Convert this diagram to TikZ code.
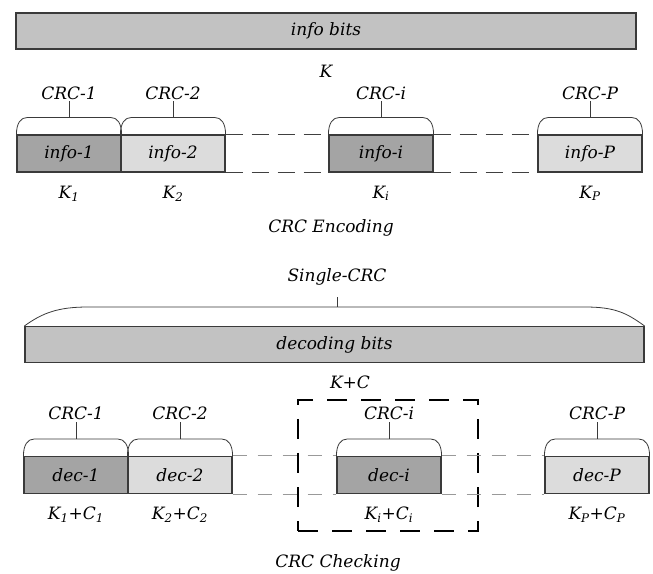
\documentclass[tikz,border=0pt]{standalone}
\usepackage{fontspec}
\setmainfont{DejaVu Serif}
\usetikzlibrary{positioning}
\definecolor{bargray}{HTML}{C2C2C2}
\definecolor{darkfill}{HTML}{A4A4A4}
\definecolor{lightfill}{HTML}{DCDCDC}
\definecolor{edgegray}{HTML}{3A3A3A}

\begin{document}
\begin{tikzpicture}
  [x=1pt,y=1pt,
   every node/.style={font=\fontsize{17}{20}\selectfont\itshape,inner sep=2pt},
   bar/.style={draw=edgegray,line width=1.1pt,fill=bargray,minimum height=36pt},
   blk/.style={draw=edgegray,line width=1.1pt,minimum width=104pt,minimum height=37pt},
   dk/.style={blk,fill=darkfill},
   lt/.style={blk,fill=lightfill},
   brace/.style={draw=edgegray,line width=0.8pt},
   gapenc/.style={draw=black!75,line width=1pt,dash pattern=on 17pt off 9pt},
   gapdec/.style={draw=black!40,line width=1pt,dash pattern=on 14pt off 11pt},
   chk/.style={draw=black,line width=2.6pt,dash pattern=on 20pt off 14pt,minimum width=180pt,minimum height=131pt}]
  \useasboundingbox (0,0) rectangle (653,573);

  % CRC encoding
  \node[bar,minimum width=620pt] (info) at (326,542) {info bits};
  \node (K) at (326,502) {K};
  \node[dk] (in1) at (69,419.5) {info-1};
  \node[lt] (in2) at (173,419.5) {info-2};
  \node[dk] (ini) at (381,419.5) {info-i};
  \node[lt] (inP) at (590,419.5) {info-P};
  \node[above=33pt of in1] (c1) {CRC-1};
  \node[above=33pt of in2] (c2) {CRC-2};
  \node[above=33pt of ini] (ci) {CRC-i};
  \node[above=33pt of inP] (cP) {CRC-P};
  \node[below=11pt of in1] (k1) {K\textsubscript{1}};
  \node[below=11pt of in2] (k2) {K\textsubscript{2}};
  \node[below=11pt of ini] (ki) {K\textsubscript{i}};
  \node[below=11pt of inP] (kP) {K\textsubscript{P}};
  \node (enc) at (331,345) {CRC Encoding};
\foreach \from/\to in {in2/ini,ini/inP}
    \draw[gapenc] (\from.north east) -- (\to.north west) (\from.south east) -- (\to.south west);

  % single CRC over the decoding bits
  \node[bar,minimum width=619pt] (dec) at (334.5,228.5) {decoding bits};
  \coordinate (stem) at (337,276);
  \node[above=10pt of stem] (sgl) {Single-CRC};
  \draw[brace] (dec.north west) .. controls +(18,13) and +(-30,0) .. (88,266) -- (585,266)
    .. controls +(30,0) and +(-18,13) .. (dec.north east);
  \draw[brace] (337,266) -- (stem);
  \node (KC) at (350,191) {K+C};

  % CRC checking
  \node[chk] (win) at (388,107.5) {};
  \node[dk] (dc1) at (76,98) {dec-1};
  \node[lt] (dc2) at (180,98) {dec-2};
  \node[dk] (dci) at (389,98) {dec-i};
  \node[lt] (dcP) at (597,98) {dec-P};
  \node[above=34pt of dc1] (d1) {CRC-1};
  \node[above=34pt of dc2] (d2) {CRC-2};
  \node[above=34pt of dci] (di) {CRC-i};
  \node[above=34pt of dcP] (dP) {CRC-P};
  \node[below=11pt of dc1] (kc1) {K\textsubscript{1}+C\textsubscript{1}};
  \node[below=11pt of dc2] (kc2) {K\textsubscript{2}+C\textsubscript{2}};
  \node[below=11pt of dci] (kci) {K\textsubscript{i}+C\textsubscript{i}};
  \node[below=11pt of dcP] (kcP) {K\textsubscript{P}+C\textsubscript{P}};
  \node (chkt) at (338,10) {CRC Checking};
\foreach \from/\to in {dc2/dci,dci/dcP}
    \draw[gapdec] (\from.north east) -- (\to.north west) (\from.south east) -- (\to.south west);

  % braces over every segment
\foreach \b/\l in {in1/c1,in2/c2,ini/ci,inP/cP,dc1/d1,dc2/d2,dci/di,dcP/dP} {
    \draw[brace] (\b.north west) .. controls +(0,11) and +(-7,0) .. ([shift={(11pt,17pt)}]\b.north west)
      -- ([shift={(-11pt,17pt)}]\b.north east) .. controls +(7,0) and +(0,11) .. (\b.north east);
    \draw[brace] ([yshift=17pt]\b.north) -- (\l.south);
}
\end{tikzpicture}
\end{document}
